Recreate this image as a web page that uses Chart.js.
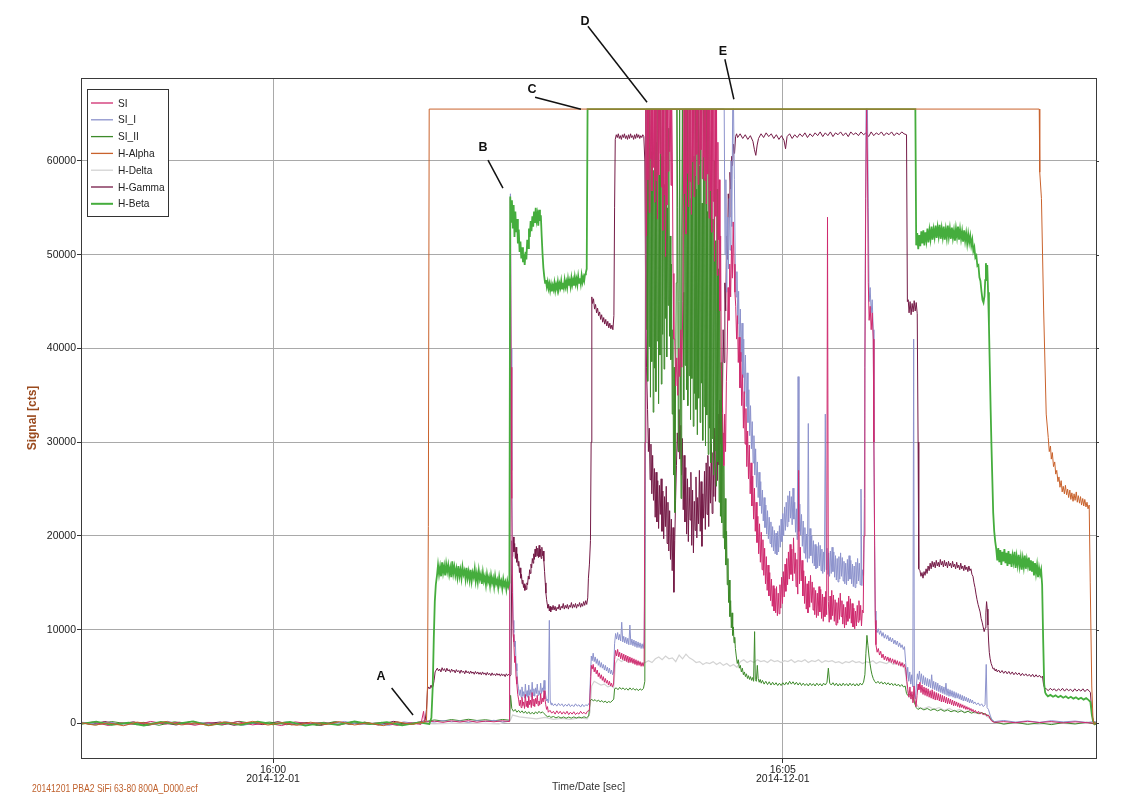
<!DOCTYPE html>
<html>
<head>
<meta charset="utf-8">
<script src="https://cdn.jsdelivr.net/npm/chart.js@4.4.1/dist/chart.umd.min.js"></script>
<style>
  html, body { margin: 0; padding: 0; background: #ffffff; }
  #wrap { position: relative; width: 1132px; height: 796px; }
</style>
</head>
<body>
<div id="wrap"><canvas id="chart" width="1132" height="796"></canvas></div>
<script>
// Time axis: seconds relative to 2014-12-01 16:00:00. Values: detector counts.
const xTickSeconds = [0, 300];
const xTickLabels = [['16:00', '2014-12-01'], ['16:05', '2014-12-01']];
const yTickValues = [0, 10000, 20000, 30000, 40000, 50000, 60000];
const seriesNames = ['SI', 'SI_I', 'SI_II', 'H-Alpha', 'H-Delta', 'H-Gamma', 'H-Beta'];
const fileLabel = '20141201 PBA2 SiFi 63-80 800A_D000.ecf';

// Event markers A-E: label anchor and pointer line, in [seconds, counts]
const markerLabels = ['A', 'B', 'C', 'D', 'E'];
const markerText = [[63.5, 5014], [123.6, 61434], [152.4, 67649], [183.6, 74901], [264.7, 71707]];
const markerFrom = [[69.8, 3787], [126.5, 60101], [154.2, 66795], [185.3, 74367], [265.9, 70853]];
const markerTo = [[82.4, 907], [135.3, 57114], [181.2, 65515], [220.1, 66261], [271.2, 66586]];

const siData = [
[-114,-90],[-106,160],[-97,-210],[-89,70],[-80,-130],[-72,220],[-63,-60],[-55,140],[-46,-190],[-38,90],[-29,-110],[-21,200],[-12,-150],[-4,50],[5,-220],[13,170],[22,-40],[30,130],[39,-180],[47,210],[56,-70],[64,120],[73,-200],[81,80],[87,-100],[88.6,1300],[89.2,150],
[95,250],[100,120],[105,280],[110,160],[115,300],[120,140],[125,260],[130,180],[135,290],[139.2,200],
[139.7,56000],[140.1,38000],[140.5,24000],[140.9,14000],[141.3,9500],[141.7,8700],[142.2,6500],[142.6,7200],[143.0,5000],[143.5,4200],[144.0,3100],[144.5,2600],[145.0,1900],[145.5,2500],[146.0,1700],[146.5,2800],[147.0,1900],[147.5,2300],[148.0,1600],[148.5,3100],[149.0,1800],[149.5,2400],[150.0,1700],[150.5,2900],[151.0,2000],[151.5,2500],[152.0,1700],[152.5,3300],[153.0,1900],[153.5,2600],[154.0,1800],[154.5,2700],[155.0,2100],[155.5,3000],[156.0,1900],[156.5,2400],[157.0,2000],[157.5,3200],[158.0,2100],[158.5,2700],[159.0,2300],[159.5,3500],[160.0,2600],[160.5,2000],[161.0,1500],[161.5,1800],[162.0,1200],[163,1400],[164,1100],[165,1300],[166,1000],[167,1350],[168,1050],[169,1300],[170,1000],[171,1250],[172,1000],[173,1300],[174,950],[175,1200],[176,1000],[177,1250],[178,950],[179,1150],[180,1000],[181,1300],[182,1050],[183,1200],[184,1000],[185,1300],[186.2,1400],[186.8,4000],[187.3,6200],[187.8,5800],[188.4,6300],[189.0,5500],[189.6,6000],[190.2,5300],[190.8,5700],[191.4,5000],[192.0,5400],[192.6,4800],[193.2,5200],[193.8,4600],[194.4,5000],[195.0,4400],[195.6,4800],[196.2,4300],[196.8,4600],[197.4,4100],[198.0,4500],[198.6,4000],[199.2,4300],[199.8,3900],[200.4,4200],[201.0,6800],[201.6,7800],[202.2,7200],[202.8,7900],[203.4,7100],[204.0,7600],[204.6,6900],[205.2,7500],[205.8,6800],[206.4,7400],[207.0,6700],[207.6,7300],[208.2,6600],[208.8,7200],[209.4,6500],[210.0,7100],[210.6,6500],[211.2,7000],[211.8,6400],[212.4,6900],[213.0,6300],[213.6,6800],[214.2,6200],[214.8,6700],[215.4,6200],[216.0,6600],[216.6,6100],[217.2,6500],[217.8,6100],[218.4,6600],
[218.9,30000],[219.4,65535],[219.8,52000],[220.2,65535],[220.6,58000],[221.0,65535],[221.4,54500],[221.8,65535],[222.2,60200],[222.6,65535],[223.0,56800],[223.4,65535],[223.8,59300],[224.2,65535],[224.6,55600],[225.0,65535],[225.4,57900],[225.8,65535],[226.2,53800],[226.6,65535],[227.0,58500],[227.4,65535],[227.8,60800],[228.2,65535],[228.6,57200],[229.0,65535],[229.4,52600],[229.8,65535],[230.2,56400],[230.6,65535],[231.0,49800],[231.4,65535],[231.8,55300],[232.2,65535],[232.6,58900],[233.0,65535],[233.4,61000],[233.8,65535],[234.2,57400],[234.6,65535],[235.0,59800],[235.4,48000],[235.9,41000],[236.4,41000],[237.0,36000],[237.6,39000],[238.2,35000],[238.8,40000],[239.4,37000],[240.0,42000],[240.6,38000],[241.2,45000],[241.8,65535],[242.2,56500],[242.6,65535],[243.0,52200],[243.4,65535],[243.8,58700],[244.2,65535],[244.6,55100],[245.0,65535],[245.4,57800],[245.8,65535],[246.2,54300],[246.6,65535],[247.0,59900],[247.4,65535],[247.8,56200],[248.2,65535],[248.6,58400],[249.0,65535],[249.4,60700],[249.8,65535],[250.2,57500],[250.6,65535],[251.0,59600],[251.4,65535],[251.8,61200],[252.2,65535],[252.6,58100],[253.0,65535],[253.4,60400],[253.8,65535],[254.2,57900],[254.6,65535],[255.0,55400],[255.4,65535],[255.8,58600],[256.2,65535],[256.6,53900],[257.0,65535],[257.4,56800],[257.8,65535],[258.2,52400],[258.6,65535],[259.0,55700],[259.4,65535],[259.8,49300],[260.2,65535],[260.6,54100],[261.0,65535],[261.4,47800],[261.8,62000],[262.2,51600],[262.6,58000],[263.0,44000],[263.4,52000],[263.8,38000],
[264.3,36000],[264.8,31000],[265.3,27500],[265.8,33000],[266.3,29000],[266.8,36500],[267.3,40000],[267.8,46500],[268.3,43000],[268.8,49000],[269.3,45500],[269.8,51000],[270.3,47500],[270.8,53500],[271.3,49000],[271.8,46000],[272.3,44500],[272.8,41000],[273.3,43500],[273.8,38500],[274.3,41200],[274.8,35800],[275.3,39600],[275.8,33900],[276.3,37200],[276.8,31500],[277.3,35400],[277.8,29800],[278.3,33600],[278.8,27400],[279.3,31200],[279.8,26100],[280.3,29700],[280.8,24500],[281.3,27800],[281.8,23200],[282.3,26400],[282.8,21800],[283.3,25100],[283.8,20500],[284.3,23600],[284.8,19300],[285.3,22100],[285.8,18100],[286.3,21300],[286.8,17200],[287.3,20400],[287.8,16400],[288.3,19600],[288.8,15800],[289.3,18700],[289.8,14900],[290.3,17800],[290.8,14200],[291.3,16900],[291.8,13600],[292.3,16100],[292.8,13100],[293.3,15400],[293.8,12500],[294.3,14700],[294.8,12000],[295.3,14400],[295.8,11800],[296.3,14600],[296.8,11500],[297.3,13900],[297.8,11700],[298.3,14800],[298.8,12300],[299.3,15600],[299.8,12800],[300.3,16200],[300.8,13500],[301.3,17000],[301.8,14100],[302.3,17600],[302.8,14800],[303.3,18300],[303.8,15400],[304.3,19100],[304.8,15900],[305.3,18600],[305.8,15200],[306.3,19800],[306.8,16000],[307.3,18200],[307.8,14600],[308.3,17500],[308.8,13800],[309.3,27000],[309.8,14900],[310.3,18800],[310.8,15200],[311.3,17400],[311.8,13600],[312.3,16300],[312.8,12800],[313.3,15700],[313.8,12200],[314.3,14900],[314.8,11800],[315.3,15200],[315.8,12400],[316.3,15800],[316.8,12900],[317.3,15100],[317.8,12100],[318.3,14500],[318.8,11600],[319.3,14200],[319.8,11300],[320.3,13900],[320.8,11500],[321.3,14600],[321.8,11900],[322.3,14300],[322.8,11200],[323.3,13800],[323.8,10900],[324.3,13500],[324.8,11400],[325.3,14100],[325.8,11600],[326.3,54000],[326.8,13000],[327.3,10800],[327.8,13600],[328.3,11100],[328.8,14200],[329.3,11500],[329.8,13700],[330.3,10900],[330.8,13200],[331.3,10500],[331.8,12900],[332.3,10700],[332.8,13400],[333.3,11100],[333.8,13900],[334.3,11400],[334.8,13100],[335.3,10600],[335.8,12700],[336.3,10200],[336.8,12400],[337.3,10500],[337.8,13000],[338.3,10900],[338.8,13600],[339.3,11200],[339.8,13300],[340.3,10700],[340.8,12800],[341.3,10300],[341.8,12300],[342.3,10100],[342.8,12000],[343.3,10400],[343.8,12600],[344.3,10800],[344.8,13100],[345.3,11000],[345.8,12600],[346.3,10400],[346.8,12100],[347.3,11800],[347.8,20000],[348.3,38000],[348.8,56000],[349.3,65535],[349.8,60000],[350.3,47000],[350.8,43000],[351.4,44500],[352.0,42000],[352.6,43800],[353.2,41000],[353.6,30000],[354.0,20000],[354.4,11000],[354.8,8400],[355.5,7600],[356.2,8000],[356.9,7300],[357.6,7700],[358.3,7000],[359.0,7400],[359.7,6800],[360.4,7200],[361.1,6700],[361.8,7100],[362.5,6600],[363.2,7000],[363.9,6500],[364.6,6900],[365.3,6400],[366.0,6800],[366.7,6300],[367.4,6700],[368.1,6200],[368.8,6600],[369.5,6100],[370.2,6500],[370.9,6000],[371.6,6300],[372.3,5800],[373.0,4500],[373.6,3600],[374.2,2800],[374.8,3900],[375.4,2600],[376.0,3400],[376.6,2200],[377.2,4000],[377.8,2500],[378.4,1800],[379.0,3000],[379.6,4200],[380.1,3600],[380.7,4400],[381.3,3300],[381.9,4100],[382.5,3100],[383.1,3900],[383.7,3000],[384.3,3800],[384.9,2900],[385.5,3700],[386.1,2800],[386.7,3500],[387.3,2700],[387.9,3600],[388.5,2600],[389.1,3400],[389.7,2500],[390.3,3300],[390.9,2500],[391.5,3200],[392.1,2400],[392.7,3100],[393.3,2300],[393.9,3000],[394.5,2300],[395.1,2900],[395.7,2200],[396.3,2800],[396.9,2100],[397.5,2700],[398.1,2100],[398.7,2600],[399.3,2000],[399.9,2500],[400.5,1900],[401.1,2400],[401.7,1900],[402.3,2300],[402.9,1800],[403.5,2200],[404.1,1700],[404.7,2100],[405.3,1700],[405.9,2000],[406.5,1600],[407.1,1900],[407.7,1500],[408.3,1800],[408.9,1500],[409.5,1700],[410.1,1400],[410.7,1600],[411.3,1300],[411.9,1500],[412.5,1200],[413.3,1400],[414.2,1100],[415.1,1300],[416.0,1000],[417.0,1200],[418.0,900],[419.0,1100],[420.0,800],[421.0,900],[422.0,500],[423.0,250],[424.5,120],[430,200],[437,80],[444,230],[451,100],[458,210],[465,60],[472,180],[479,90],[483,30],[488,60]
];

const siIData = [
[-114,180],[-105,-60],[-96,140],[-88,-190],[-79,60],[-70,-110],[-62,230],[-53,-140],[-44,120],[-36,-70],[-27,190],[-18,-210],[-10,80],[-1,-50],[8,160],[16,-170],[25,100],[34,-80],[42,220],[51,-120],[60,50],[68,-200],[77,170],[85,-30],[89.5,250],
[95,150],[100,320],[105,180],[110,290],[115,130],[120,310],[125,200],[130,340],[135,170],[139.2,280],
[139.7,56500],[140.1,40000],[140.5,27000],[140.9,16000],[141.3,11000],[141.7,9700],[142.2,8200],[142.6,8800],[143.0,6400],[143.5,5600],[144.0,4300],[144.5,3700],[145.0,3000],[145.5,3600],[146.0,2800],[146.5,3900],[147.0,2900],[147.5,3400],[148.0,2700],[148.5,4200],[149.0,2900],[149.5,3500],[150.0,2800],[150.5,4100],[151.0,3000],[151.5,3600],[152.0,2800],[152.5,4400],[153.0,3000],[153.5,3700],[154.0,2900],[154.5,3800],[155.0,3200],[155.5,4200],[156.0,3000],[156.5,3500],[157.0,3100],[157.5,4300],[158.0,3200],[158.5,3800],[159.0,3400],[159.5,4600],[160.0,3600],[160.5,3000],[161.0,2400],[161.5,2600],[162.0,2200],[162.6,11000],[163.1,2500],[163.6,2000],[164,2200],[165,1900],[166,2100],[167,1850],[168,2150],[169,1900],[170,2100],[171,1800],[172,2050],[173,1850],[174,2100],[175,1800],[176,2000],[177,1800],[178,2100],[179,1850],[180,2000],[181,1750],[182,2050],[183,1800],[184,2000],[185,1900],[186.2,2200],[186.8,5000],[187.3,7200],[187.8,6700],[188.4,7500],[189.0,6600],[189.6,7100],[190.2,6400],[190.8,6900],[191.4,6200],[192.0,6700],[192.6,6000],[193.2,6500],[193.8,5900],[194.4,6300],[195.0,5700],[195.6,6200],[196.2,5600],[196.8,6000],[197.4,5400],[198.0,5900],[198.6,5300],[199.2,5700],[199.8,5200],[200.4,5500],[201.0,8500],[201.6,9600],[202.2,9000],[202.8,9700],[203.4,8900],[204.0,9500],[204.6,8800],[205.2,10800],[205.8,8700],[206.4,9300],[207.0,8600],[207.6,9200],[208.2,8500],[208.8,9100],[209.4,8400],[210.0,10500],[210.6,8400],[211.2,9000],[211.8,8300],[212.4,8900],[213.0,8200],[213.6,8800],[214.2,8100],[214.8,8700],[215.4,8100],[216.0,8600],[216.6,8000],[217.2,8500],[217.8,8000],[218.4,8700],
[219.0,20000],[219.5,65535],[265.0,65535],
[265.5,65535],[266.0,50000],[266.5,58000],[267.0,46000],[267.5,54000],[268.0,48500],[268.5,56000],[269.0,50500],[269.5,60000],[270.0,53000],[270.5,65535],[271.0,65535],[271.5,58000],[272.0,49000],[272.5,45500],[273.0,48200],[273.5,42600],[274.0,46100],[274.5,40300],[275.0,44200],[275.5,38600],[276.0,42700],[276.5,36900],[277.0,41000],[277.5,35200],[278.0,39300],[278.5,33800],[279.0,37400],[279.5,32100],[280.0,35600],[280.5,30700],[281.0,33900],[281.5,29300],[282.0,32200],[282.5,27800],[283.0,30700],[283.5,26500],[284.0,29300],[284.5,25200],[285.0,27900],[285.5,24100],[286.0,26800],[286.5,23200],[287.0,25800],[287.5,22400],[288.0,24900],[288.5,21600],[289.0,24100],[289.5,20900],[290.0,23300],[290.5,20200],[291.0,22700],[291.5,19700],[292.0,22000],[292.5,19200],[293.0,21500],[293.5,18800],[294.0,21000],[294.5,18400],[295.0,20600],[295.5,18100],[296.0,20300],[296.5,18000],[297.0,20500],[297.5,18300],[298.0,21100],[298.5,18800],[299.0,21800],[299.5,19400],[300.0,22400],[300.5,20000],[301.0,23100],[301.5,20600],[302.0,23600],[302.5,21000],[303.0,24300],[303.5,21500],[304.0,24800],[304.5,21900],[305.0,24200],[305.5,21200],[306.0,25100],[306.5,21800],[307.0,23600],[307.5,20400],[308.0,22900],[308.5,19600],[309.0,37000],[309.5,20500],[310.0,23400],[310.5,20100],[311.0,22300],[311.5,18900],[312.0,21600],[312.5,18200],[313.0,20900],[313.5,17600],[314.0,20200],[314.5,17200],[315.0,32000],[315.5,17600],[316.0,20800],[316.5,17900],[317.0,20100],[317.5,17100],[318.0,19500],[318.5,16800],[319.0,19100],[319.5,16500],[320.0,18900],[320.5,16600],[321.0,19300],[321.5,16800],[322.0,19000],[322.5,16300],[323.0,18600],[323.5,16000],[324.0,18300],[324.5,16200],[325.0,33000],[325.5,16400],[326.0,18700],[326.5,15900],[327.0,18200],[327.5,15700],[328.0,18400],[328.5,16000],[329.0,18800],[329.5,16200],[330.0,18300],[330.5,15600],[331.0,17900],[331.5,15300],[332.0,17600],[332.5,15100],[333.0,17800],[333.5,15400],[334.0,18200],[334.5,15700],[335.0,17700],[335.5,15200],[336.0,17300],[336.5,14900],[337.0,17100],[337.5,14800],[338.0,17500],[338.5,15200],[339.0,17900],[339.5,15400],[340.0,17400],[340.5,14900],[341.0,17000],[341.5,14600],[342.0,16800],[342.5,14500],[343.0,17200],[343.5,14900],[344.0,17600],[344.5,15200],[345.0,17100],[345.5,14800],[346.0,25000],[346.5,14700],[347.0,16400],[347.5,15800],[348.0,24000],[348.5,48000],[349.0,65535],[349.8,65535],[350.3,55000],[350.8,45000],[351.4,46500],[352.0,43800],[352.6,45200],[353.2,42000],[353.6,30000],[354.0,19000],[354.4,12000],[354.8,10000],[355.5,9700],[356.2,10100],[356.9,9500],[357.6,9900],[358.3,9300],[359.0,9700],[359.7,9100],[360.4,9500],[361.1,9000],[361.8,9400],[362.5,8800],[363.2,9200],[363.9,8700],[364.6,9100],[365.3,8500],[366.0,8900],[366.7,8400],[367.4,8800],[368.1,8200],[368.8,8600],[369.5,8100],[370.2,8400],[370.9,7900],[371.6,8200],[372.3,6500],[372.9,4800],[373.5,6000],[374.1,4500],[374.7,5500],[375.3,4200],[375.9,5200],[376.5,3900],[377.0,41000],[377.4,3200],[378.0,2600],[378.6,4000],[379.2,5300],[379.8,4700],[380.4,5600],[381.0,4400],[381.6,5300],[382.2,4200],[382.8,5100],[383.4,4100],[384.0,4900],[384.6,4000],[385.2,4800],[385.8,3900],[386.4,4700],[387.0,3800],[387.6,5200],[388.2,3700],[388.8,4500],[389.4,3600],[390.0,4400],[390.6,3500],[391.2,4300],[391.8,3400],[392.4,4100],[393.0,3300],[393.6,4000],[394.2,3200],[394.8,3900],[395.4,3100],[396.0,4300],[396.6,3000],[397.2,3700],[397.8,2900],[398.4,3600],[399.0,2900],[399.6,3500],[400.2,2800],[400.8,3400],[401.4,2700],[402.0,3300],[402.6,2700],[403.2,3200],[403.8,2600],[404.4,3100],[405.0,2500],[405.6,3000],[406.2,2400],[406.8,2900],[407.4,2400],[408.0,2800],[408.6,2300],[409.2,2700],[409.8,2200],[410.4,2600],[411.0,2200],[411.6,2500],[412.2,2100],[413,2300],[414,2000],[415,2200],[416,1900],[417,2100],[418,1800],[419,2000],[419.7,6300],[420.2,1700],[421,1500],[422,900],[423,400],[424.5,200],[430,320],[437,150],[444,280],[451,120],[458,300],[465,170],[472,260],[479,110],[483,200],[488,90]
];

const siIIData = [
[-114,70],[-104,-150],[-95,210],[-86,-30],[-76,120],[-67,-190],[-58,180],[-48,-90],[-39,60],[-30,-170],[-20,230],[-11,-20],[-2,150],[8,-130],[17,90],[26,-210],[36,190],[45,-60],[54,140],[64,-160],[73,40],[82,-100],[89.5,200],
[95,380],[100,260],[105,420],[110,300],[115,450],[120,320],[125,400],[130,280],[135,430],[139.2,350],
[139.8,3000],[140.5,1600],[141.5,1300],[142.5,1500],[143.5,1200],[144.5,1400],[145.5,1150],[146.5,1350],[147.5,1100],[148.5,1300],[149.5,1050],[150.5,1250],[151.5,1000],[152.5,1200],[153.5,1000],[154.5,1250],[155.5,1050],[156.5,1300],[157.5,1100],[158.5,1250],[159.5,1050],[160.5,900],[161.5,700],[162.5,800],[163.5,650],[165,750],[166.5,600],[168,720],[169.5,580],[171,700],[172.5,560],[174,690],[175.5,570],[177,700],[178.5,580],[180,690],[181.5,600],[183,710],[184.5,620],[185.8,800],[186.6,2400],[187.5,2600],[188.5,2400],[189.5,2550],[190.5,2350],[191.5,2500],[192.5,2300],[193.5,2450],[194.5,2250],[195.5,2400],[196.5,2200],[197.5,2350],[198.5,2250],[199.5,2400],[200.5,2600],[201.0,3700],[202,3800],[203,3600],[204,3850],[205,3650],[206,3800],[207,3600],[208,3750],[209,3550],[210,3800],[211,3600],[212,3750],[213,3550],[214,3700],[215,3500],[216,3700],[217,3550],[218,3750],[218.8,4500],
[219.3,65535],[219.7,42000],[220.1,65535],[220.5,36500],[220.9,63000],[221.3,40200],[221.7,65535],[222.1,34800],[222.5,61000],[222.9,38600],[223.3,65535],[223.7,33200],[224.1,59000],[224.5,37900],[224.9,65535],[225.3,35400],[225.7,62000],[226.1,40800],[226.5,65535],[226.9,34100],[227.3,58500],[227.7,39300],[228.1,65535],[228.5,36200],[228.9,60500],[229.3,41500],[229.7,65535],[230.1,37800],[230.5,57500],[230.9,43200],[231.3,65535],[231.7,39100],[232.1,55000],[232.5,44600],[232.9,63500],[233.3,41300],[233.7,52000],[234.1,38800],[234.5,49000],[234.9,33000],[235.3,42000],[235.7,26500],[236.1,38000],[236.5,22500],[236.9,36000],[237.3,47000],[237.7,65535],[238.1,55000],[238.5,29000],[238.9,45000],[239.3,65535],[239.7,40000],[240.1,24000],[240.5,52000],[240.9,65535],[241.3,46000],[241.7,34500],[242.1,65535],[242.5,38200],[242.9,60000],[243.3,35600],[243.7,65535],[244.1,33900],[244.5,58000],[244.9,37100],[245.3,65535],[245.7,32400],[246.1,56000],[246.5,36800],[246.9,65535],[247.3,31700],[247.7,60500],[248.1,35200],[248.5,65535],[248.9,33500],[249.3,57000],[249.7,30800],[250.1,65535],[250.5,34700],[250.9,59500],[251.3,32100],[251.7,65535],[252.1,36300],[252.5,55500],[252.9,30200],[253.3,65535],[253.7,33800],[254.1,58200],[254.5,29600],[254.9,65535],[255.3,32900],[255.7,54600],[256.1,28700],[256.5,65535],[256.9,31500],[257.3,56800],[257.7,27800],[258.1,63000],[258.5,30400],[258.9,53800],[259.3,26500],[259.7,60000],[260.1,29100],[260.5,51500],[260.9,25300],[261.3,57000],[261.7,27900],[262.1,48500],[262.5,23600],[262.9,44000],[263.3,22100],[263.7,38500],[264.1,21400],[264.5,33000],[264.9,19800],[265.3,27500],[265.7,18600],[266.1,24000],[266.5,16900],[266.9,20500],[267.3,14800],[267.7,17600],[268.1,12900],[268.5,15300],[268.9,11400],[269.3,13100],[269.7,10200],[270.1,11800],[270.5,9400],[270.9,10300],[271.3,8600],[271.7,9200],[272.1,8000],[272.6,7200],[273.2,6400],[273.8,6800],[274.4,5900],[275.0,6200],[275.6,5500],[276.2,5900],[276.8,5200],[277.4,5500],[278.0,5000],[278.6,5300],[279.2,4800],[279.8,5100],[280.4,4700],[281.0,5000],[281.6,4600],[282.2,4900],[282.8,4500],[283.4,9800],[283.8,4700],[284.4,4500],[285.0,6200],[285.5,4800],[286.1,4400],[286.7,4700],[287.3,4300],[288.0,4600],[289,4200],[290,4500],[291,4150],[292,4450],[293,4100],[294,4400],[295,4100],[296,4350],[297,4050],[298,4300],[299,4050],[300,4350],[301,4100],[302,4400],[303,4150],[304,4500],[305,4200],[306,4450],[307,4150],[308,4400],[309,4100],[310,4350],[311,4050],[312,4300],[313,4050],[314,4250],[315,4000],[316,4300],[317,4050],[318,4250],[319,4000],[320,4300],[321,4050],[322,4250],[323,4000],[324,4300],[325,4100],[326,4400],[326.8,5900],[327.6,4300],[328.5,4100],[329.5,4350],[330.5,4050],[331.5,4300],[332.5,4000],[333.5,4250],[334.5,4000],[335.5,4300],[336.5,4050],[337.5,4250],[338.5,4000],[339.5,4300],[340.5,4050],[341.5,4250],[342.5,4000],[343.5,4250],[344.5,4000],[345.5,4300],[346.5,4100],[347.5,4400],[348.3,5200],[348.9,7500],[349.5,9400],[350.1,8300],[350.7,7200],[351.3,6400],[351.9,5700],[352.5,5200],[353.2,4800],[354,4500],[355,4300],[356,4500],[357,4250],[358,4450],[359,4200],[360,4400],[361,4150],[362,4350],[363,4100],[364,4300],[365,4050],[366,4250],[367,4000],[368,4200],[369,3950],[370,4150],[371,3900],[372,4000],[372.8,3200],[373.5,3000],[374.5,3100],[375.5,2900],[376.5,3050],[377.5,2200],[378.5,1700],[379.5,1500],[381,1650],[383,1450],[385,1600],[387,1400],[389,1550],[391,1350],[393,1500],[395,1300],[397,1450],[399,1250],[401,1400],[403,1200],[405,1350],[407,1150],[409,1300],[411,1100],[413,1250],[415,1050],[417,1150],[419,1000],[421,850],[423,400],[424.5,150],[430,-60],[437,110],[444,-90],[451,70],[458,-120],[465,90],[472,-50],[479,130],[483,-40],[488,60]
];

const hAlphaData = [
[-114,120],[-105,-180],[-97,60],[-88,-240],[-80,150],[-71,-90],[-63,210],[-54,-150],[-46,40],[-37,-220],[-29,170],[-20,-60],[-12,230],[-3,-170],[5,90],[14,-200],[22,140],[31,-110],[39,200],[48,-160],[56,70],[65,-230],[73,180],[82,-90],[89,150],
[90.3,300],[90.9,4000],[91.4,21000],[91.9,65535],
[450.9,65535],[451.2,58800],[452.2,56000],[453.5,44000],[455.0,33000],[456.2,30500],[456.8,29000],[457.5,29600],[458.0,28200],[458.6,28900],[459.3,27400],[460.0,27900],[460.6,26600],[461.2,27000],[461.9,25800],[462.5,26300],[463.1,25200],[463.8,25900],[464.4,24700],[465.0,25300],[465.7,24500],[466.3,25400],[467.0,24400],[467.6,25000],[468.2,24100],[468.9,24900],[469.5,23900],[470.1,24600],[470.8,23700],[471.4,24500],[472.0,23800],[472.7,24700],[473.3,23600],[473.9,24300],[474.6,23500],[475.2,24200],[475.8,23300],[476.5,24000],[477.1,23200],[477.7,23900],[478.4,23100],[479.0,23600],[479.6,22900],[480.3,23300],[480.9,15000],[481.8,4000],[482.5,600],[483.2,-100],[484.5,150],[486,-120],[488,80]
];

const hDeltaData = [
[-114,50],[-95,-120],[-76,90],[-57,-80],[-38,110],[-19,-60],[0,70],[19,-100],[38,60],[57,-90],[76,80],[95,-40],[114,60],[133,-30],[139.5,300],[141,900],[145,700],[150,600],[155,500],[160,650],[165,450],[170,550],[175,450],[180,600],[185,500],[186.5,1200],[187.5,4000],[189,4500],[191,4300],[193,4100],[195,4200],[197,3900],[199,4000],[200.5,3800],[201.5,6400],[203,6900],[205,6600],[207,6800],[209,6500],[211,6700],[213,6400],[215,6600],[217,6300],[219,6500],
[221,6700],[223,6500],[225,6900],[227,7100],[229,6800],[231,7200],[233,6900],[235,7000],[237,6600],[239,7300],[241,6900],[243,7400],[245,7000],[247,6800],[249,6500],[251,6600],[253,6300],[255,6500],[257,6400],[259,6600],[261,6300],[263,6500],[265,6200],[267,6400],[269,6100],[271,6300],[273,6000],[275,6600],[277,6800],[279,6500],[281,6700],[283,6500],[285,6800],[287,6600],[289,6700],[291,6500],[293,6800],[295,6600],[297,6700],[299,6500],[301,6700],[303,6600],[305,6800],[307,6500],[309,6700],[311,6600],[313,6800],[315,6500],[317,6700],[319,6600],[321,6800],[323,6500],[325,6700],[327,6600],[329,6700],[331,6500],[333,6600],[335,6400],[337,6600],[339,6500],[341,6700],[343,6500],[345,6600],[347,6400],[349,6600],[351,6500],[353,6700],[355,6400],[357,6600],[359,6500],[361,6400],[363,6600],[365,6300],[367,6500],[369,6200],[371,6400],[372.5,5000],[373.5,3200],[375,2800],[377,2500],[378.5,2100],[380,1700],[383,1600],[386,1800],[389,1500],[392,1700],[395,1400],[398,1600],[401,1300],[404,1500],[407,1200],[410,1400],[413,1100],[416,1200],[419,900],[422,500],[424,150],[430,-50],[440,80],[450,-60],[460,70],[470,-40],[480,60],[488,-30]
];

const hGammaData = [
[-114,140],[-107,-110],[-99,210],[-91,-70],[-82,180],[-74,-200],[-65,90],[-57,-160],[-48,220],[-40,-40],[-31,160],[-23,-190],[-14,70],[-6,-120],[3,200],[11,-150],[20,110],[28,-210],[37,170],[45,-80],[54,130],[62,-170],[71,230],[79,-60],[86,150],[89.5,300],
[90.3,1500],[90.9,3600],[91.6,3900],[92.3,3700],[93.0,4100],[93.6,3800],[94.2,4000],[94.8,4600],[95.4,5500],[96.0,5700],[96.7,5900],[97.4,5600],[98.1,5800],[98.8,5500],[99.5,5950],[100.2,5650],[100.9,5850],[101.6,5500],[102.3,5900],[103.0,5600],[103.7,5750],[104.4,5450],[105.1,5800],[105.8,5550],[106.5,5700],[107.2,5400],[107.9,5750],[108.6,5500],[109.3,5650],[110.0,5350],[110.7,5700],[111.4,5450],[112.1,5600],[112.8,5300],[113.5,5650],[114.2,5400],[114.9,5550],[115.6,5300],[116.3,5600],[117.0,5350],[117.7,5500],[118.4,5250],[119.1,5550],[119.8,5300],[120.5,5500],[121.2,5250],[121.9,5450],[122.6,5200],[123.3,5500],[124.0,5250],[124.7,5400],[125.4,5150],[126.1,5450],[126.8,5200],[127.5,5350],[128.2,5100],[128.9,5400],[129.6,5150],[130.3,5300],[131.0,5100],[131.7,5350],[132.4,5150],[133.1,5300],[133.8,5050],[134.5,5300],[135.2,5100],[135.9,5250],[136.6,5000],[137.3,5300],[138.0,5100],[138.7,5250],[139.4,5050],[140.0,5200],
[140.6,19500],[141.0,17800],[141.4,19900],[141.8,18300],[142.2,19200],[142.6,17600],[143.0,18800],[143.4,17200],[143.8,18100],[144.2,16800],[144.6,17300],[145.0,16100],[145.4,16600],[145.8,15500],[146.2,15900],[146.6,14900],[147.0,15300],[147.4,14500],[147.8,14900],[148.2,14200],[148.6,14700],[149.0,14300],[149.4,15000],[149.8,14800],[150.2,15700],[150.6,15400],[151.0,16400],[151.4,16000],[151.8,17000],[152.2,16600],[152.6,17600],[153.0,17100],[153.4,18100],[153.8,17500],[154.2,18600],[154.6,17800],[155.0,18900],[155.4,17900],[155.8,18700],[156.2,17700],[156.6,19000],[157.0,17800],[157.4,18600],[157.8,17600],[158.2,18800],[158.6,17900],[159.0,18400],[159.4,17300],[159.8,16200],[160.2,15000],[160.6,13900],[161.0,13200],[161.4,12700],[161.8,12300],[162.2,12700],[162.6,12000],[163.0,12500],[163.4,11900],[163.8,12400],[164.2,12100],[164.8,12600],[165.4,12100],[166.0,12500],[166.6,12000],[167.2,12400],[167.8,12200],[168.4,12700],[169.0,12100],[169.6,12500],[170.2,12300],[170.8,12800],[171.4,12200],[172.0,12600],[172.6,12300],[173.2,12700],[173.8,12200],[174.4,12600],[175.0,12400],[175.6,12900],[176.2,12300],[176.8,12700],[177.4,12400],[178.0,12800],[178.6,12300],[179.2,12700],[179.8,12500],[180.4,12900],[181.0,12400],[181.6,12800],[182.2,12500],[182.8,13000],[183.4,12600],[184.0,13100],[184.6,12700],[185.2,13400],[185.6,15500],[186.2,17000],[186.8,19500],[187.2,30000],[187.6,45500],[188.0,44800],[188.6,45300],[189.2,44200],[189.8,44700],[190.4,43800],[191.0,44300],[191.6,43500],[192.2,43900],[192.8,43100],[193.4,43600],[194.0,42800],[194.6,43300],[195.2,42600],[195.8,43100],[196.4,42400],[197.0,42900],[197.6,42200],[198.2,42700],[198.8,42100],[199.4,42500],[200.0,42000],[200.6,43500],[201.0,55000],[201.4,62300],[202.0,62800],[202.6,62500],[203.2,62900],[203.8,62400],[204.4,62700],[205.0,62300],[205.6,62800],[206.2,62500],[206.8,62900],[207.4,62400],[208.0,62700],[208.6,62300],[209.2,62800],[209.8,62400],[210.4,62900],[211.0,62500],[211.6,62700],[212.2,62300],[212.8,62800],[213.4,62400],[214.0,62900],[214.6,62500],[215.2,62800],[215.8,62400],[216.4,62700],[217.0,62500],[217.6,62800],[218.2,62600],
[218.8,60000],[219.3,45000],[219.8,38000],[220.4,33500],[220.9,29000],[221.4,31500],[221.9,26000],[222.4,29800],[222.9,24500],[223.4,28600],[223.9,23800],[224.4,27200],[224.9,22000],[225.4,26800],[225.9,21500],[226.4,25900],[226.9,20800],[227.4,25400],[227.9,22300],[228.4,26100],[228.9,20500],[229.4,24800],[229.9,19700],[230.4,24200],[230.9,21000],[231.4,25300],[231.9,19200],[232.4,23600],[232.9,18400],[233.4,22700],[233.9,17500],[234.4,21800],[234.9,16300],[235.4,20900],[235.9,14000],[236.4,19500],[236.9,23800],[237.4,27500],[237.9,31000],[238.4,29000],[238.9,33500],[239.4,28200],[239.9,31800],[240.4,26500],[240.9,30400],[241.4,22800],[241.9,28600],[242.4,21500],[242.9,27300],[243.4,20200],[243.9,26100],[244.4,19400],[244.9,25200],[245.4,21700],[245.9,26800],[246.4,19000],[246.9,24900],[247.4,18200],[247.9,23700],[248.4,20600],[248.9,26300],[249.4,19800],[249.9,24100],[250.4,21300],[250.9,27000],[251.4,20500],[251.9,25800],[252.4,18900],[252.9,24500],[253.4,21900],[253.9,26900],[254.4,20700],[254.9,27800],[255.4,22300],[255.9,28600],[256.4,21000],[256.9,27400],[257.4,23500],[257.9,29800],[258.4,22400],[258.9,28900],[259.4,24200],[259.9,31500],[260.4,23700],[260.9,30800],[261.4,25900],[261.9,33000],[262.4,27600],[262.9,34500],[263.4,29800],[263.9,37500],[264.4,33200],[264.9,42000],[265.4,38500],[265.9,47000],[266.4,44000],[266.9,52000],[267.4,49500],[267.9,56500],[268.4,54000],[268.9,58800],[269.4,57000],[269.9,60500],[270.4,59500],[271.0,61800],[271.6,60800],[272.2,62600],[272.8,62900],
[273.4,62500],[274.9,62900],[276.4,62400],[277.9,62800],[279.4,62300],[280.9,62700],[282.4,62100],[283.3,61200],[284.1,60600],[284.9,61700],[285.7,62400],[287.2,62900],[288.7,62500],[290.2,63000],[291.7,62600],[293.2,62900],[294.7,62400],[296.2,62800],[297.7,62300],[299.2,62700],[300.7,62200],[301.6,61300],[302.5,62600],[304.0,62900],[305.5,62400],[307.0,62800],[308.5,62500],[310.0,62900],[311.5,62600],[313.0,63000],[314.5,62500],[316.0,62900],[317.5,62600],[319.0,63000],[320.5,62700],[322.0,63100],[323.5,62600],[325.0,63000],[326.5,62700],[328.0,63100],[329.5,62600],[331.0,63000],[332.5,62800],[334.0,63100],[335.5,62700],[337.0,63000],[338.5,62600],[340.0,63100],[341.5,62800],[343.0,63000],[344.5,62700],[346.0,63100],[347.5,62800],[349.0,63000],[350.5,62600],[352.0,63100],[353.5,62700],[355.0,63000],[356.5,62800],[358.0,63100],[359.5,62700],[361.0,63000],[362.5,62800],[364.0,63100],[365.5,62700],[367.0,63000],[368.5,62800],[370.0,63100],[371.3,62900],[372.8,62800],
[373.3,45000],[373.8,45200],[374.3,43800],[374.9,45000],[375.5,43600],[376.1,44800],[376.7,43900],[377.3,45100],[377.9,44000],[378.5,44900],[379.1,43700],[379.6,30000],[380.0,16500],[380.7,16300],[381.3,15700],[381.9,16100],[382.5,15500],[383.1,16200],[383.7,15800],[384.3,16500],[384.9,16000],[385.5,16800],[386.1,16300],[386.7,17100],[387.3,16500],[387.9,17300],[388.5,16700],[389.1,17200],[389.7,16600],[390.3,17400],[390.9,16800],[391.5,17200],[392.1,16700],[392.7,17500],[393.3,16900],[393.9,17300],[394.5,16700],[395.1,17400],[395.7,16800],[396.3,17200],[396.9,16600],[397.5,17300],[398.1,16800],[398.7,17100],[399.3,16600],[399.9,17300],[400.5,16700],[401.1,17000],[401.7,16500],[402.3,17200],[402.9,16600],[403.5,16900],[404.1,16400],[404.7,17100],[405.3,16500],[405.9,16800],[406.5,16300],[407.1,16900],[407.7,16400],[408.3,16700],[408.9,16200],[409.5,16800],[410.1,16300],[410.7,16500],[411.3,15900],[411.9,15700],[412.5,15000],[413.1,14500],[413.7,13800],[414.3,13200],[414.9,12700],[415.5,12300],[416.1,11900],[416.7,11200],[417.3,10800],[417.9,10300],[418.5,9800],[419.1,10200],[419.5,11800],[419.9,13000],[420.3,12200],[420.7,10500],[421.1,8800],[421.5,7600],[422.0,6900],[422.6,6400],[423.2,6100],[423.8,5800],[424.4,5900],[425.0,5600],[425.6,5800],[426.2,5500],[427.0,5700],[428.0,5400],[429.0,5650],[430.0,5350],[431.0,5600],[432.0,5300],[433.0,5550],[434.0,5250],[435.0,5500],[436.0,5200],[437.0,5450],[438.0,5200],[439.0,5400],[440.0,5100],[441.0,5350],[442.0,5100],[443.0,5300],[444.0,5050],[445.0,5250],[446.0,5000],[447.0,5250],[448.0,4950],[449.0,5200],[450.0,4950],[451.0,5150],[452.0,4900],[452.8,5050],[453.4,4200],[454.0,3800],[455.0,3700],[456.2,3500],[457.4,3750],[458.6,3550],[459.8,3700],[461,3450],[462.2,3700],[463.4,3500],[464.6,3750],[465.8,3450],[467,3700],[468.2,3500],[469.4,3650],[470.6,3400],[471.8,3700],[473,3450],[474.2,3650],[475.4,3450],[476.6,3700],[477.8,3400],[479,3650],[480.2,3500],[481.0,3300],[481.8,1200],[482.6,200],[484,-100],[486,150],[488,-50]
];

const hBetaData = [
[-114,-60],[-104,190],[-95,-150],[-85,80],[-76,-210],[-66,160],[-57,-40],[-47,230],[-38,-190],[-28,100],[-19,-130],[-9,200],[0,-80],[10,170],[19,-220],[29,60],[38,-140],[48,210],[57,-60],[67,150],[76,-200],[86,110],[92,-50],
[93.2,600],[94.0,4000],[94.6,9000],[95.2,13000],[95.8,14800],[96.5,15800],[97.1,16900],[97.7,15900],[98.3,16700],[98.9,15700],[99.5,17200],[100.1,16100],[100.7,16800],[101.3,15800],[101.9,17000],[102.5,16200],[103.1,16900],[103.7,15900],[104.3,16600],[104.9,15600],[105.5,17300],[106.1,16000],[106.7,16700],[107.3,15800],[107.9,16500],[108.5,15600],[109.1,16800],[109.7,15700],[110.3,16400],[110.9,15500],[111.5,16700],[112.1,15900],[112.7,16300],[113.3,15400],[113.9,16600],[114.5,15500],[115.1,16200],[115.7,15300],[116.3,16400],[116.9,15200],[117.5,16100],[118.1,15600],[118.7,16500],[119.3,15200],[119.9,16000],[120.5,15100],[121.1,16300],[121.7,15400],[122.3,15900],[122.9,14900],[123.5,16100],[124.1,15200],[124.7,15700],[125.3,14800],[125.9,15900],[126.5,15100],[127.1,15600],[127.7,14700],[128.3,15800],[128.9,15000],[129.5,15500],[130.1,14600],[130.7,15700],[131.3,14900],[131.9,15300],[132.5,14500],[133.1,15600],[133.7,14800],[134.3,15200],[134.9,14400],[135.5,15400],[136.1,14700],[136.7,15100],[137.3,14300],[137.9,15200],[138.5,14600],[139.1,15000],
[139.6,56200],[140.1,53500],[140.6,55800],[141.1,52800],[141.6,55300],[142.1,51900],[142.6,54600],[143.1,52400],[143.6,53800],[144.1,51200],[144.6,52700],[145.1,50300],[145.6,51400],[146.1,49600],[146.6,50800],[147.1,49200],[147.6,50100],[148.1,48900],[148.6,50300],[149.1,49500],[149.6,51600],[150.1,50700],[150.6,52800],[151.1,51900],[151.6,53600],[152.1,52500],[152.6,54100],[153.1,53000],[153.6,54600],[154.1,53400],[154.6,55000],[155.1,53700],[155.6,54300],[156.1,53100],[156.6,54800],[157.1,53600],[157.6,54200],[158.1,52000],[158.6,50100],[159.1,48600],[159.6,47700],[160.1,47000],[160.6,47300],[161.1,46600],[161.6,47100],[162.1,46400],[162.6,46900],[163.1,46200],[163.6,46800],[164.1,46100],[164.6,46700],[165.1,46300],[165.6,47000],[166.1,46200],[166.6,46800],[167.1,46400],[167.6,47100],[168.1,46300],[168.6,46900],[169.1,46500],[169.6,47200],[170.1,46400],[170.6,47000],[171.1,46500],[171.6,47300],[172.1,46600],[172.6,47100],[173.1,46500],[173.6,47400],[174.1,46700],[174.6,47200],[175.1,46600],[175.6,47500],[176.1,46800],[176.6,47300],[177.1,46700],[177.6,47600],[178.1,46900],[178.6,47400],[179.1,46800],[179.6,47700],[180.1,47000],[180.6,47500],[181.1,46900],[181.6,47800],[182.1,47100],[182.6,47600],[183.1,47200],[183.6,47900],[184.1,48100],[184.6,48500],[185.1,65535],
[378.0,65535],[378.5,51000],[379.1,52300],[379.7,50600],[380.3,52100],[380.9,50900],[381.5,52500],[382.1,51200],[382.7,52600],[383.3,51000],[383.9,52400],[384.5,51500],[385.1,52800],[385.7,51300],[386.3,52600],[386.9,51700],[387.5,53000],[388.1,51600],[388.7,52700],[389.3,51900],[389.9,53100],[390.5,51800],[391.1,52900],[391.7,52000],[392.3,53200],[392.9,51700],[393.5,52800],[394.1,51900],[394.7,53000],[395.3,51600],[395.9,52700],[396.5,51800],[397.1,53100],[397.7,51900],[398.3,52800],[398.9,51700],[399.5,52900],[400.1,51800],[400.7,52600],[401.3,51500],[401.9,52800],[402.5,51900],[403.1,53000],[403.7,51600],[404.3,52700],[404.9,51700],[405.5,52500],[406.1,51400],[406.7,52600],[407.3,51500],[407.9,52300],[408.5,51200],[409.1,52200],[409.7,51300],[410.3,52000],[410.9,51000],[411.5,51600],[412.1,50400],[412.7,50800],[413.3,49700],[413.9,49900],[414.5,48800],[415.1,48900],[415.7,47600],[416.3,47200],[416.9,46100],[417.5,45200],[418.1,44900],[418.7,45600],[419.1,47300],[419.5,49100],[419.9,48200],[420.3,48900],[420.8,46000],[421.3,42500],[421.8,38000],[422.3,33500],[422.8,29500],[423.3,26000],[423.8,22500],[424.4,20500],[425.0,19400],[425.6,18600],[426.2,17400],[426.8,18700],[427.4,17200],[428.0,18500],[428.6,16900],[429.2,18300],[429.8,17300],[430.4,18600],[431.0,17100],[431.6,18200],[432.2,16800],[432.8,18400],[433.4,17000],[434.0,18100],[434.6,16700],[435.2,17900],[435.8,17200],[436.4,18300],[437.0,16600],[437.6,17800],[438.2,16900],[438.8,18000],[439.4,16800],[440.0,17700],[440.6,16400],[441.2,17600],[441.8,16700],[442.4,17900],[443.0,16500],[443.6,17500],[444.2,16800],[444.8,17700],[445.4,16300],[446.0,17400],[446.6,16200],[447.2,17300],[447.8,15800],[448.4,17100],[449.0,16000],[449.6,16900],[450.2,15600],[450.8,16600],[451.4,15900],[452.0,16400],[452.6,14800],[453.2,9000],[453.8,4200],[454.4,3300],[455.0,3100],[456.0,2900],[457.5,3050],[459,2850],[460.5,3000],[462,2800],[463.5,2950],[465,2750],[466.5,2900],[468,2700],[469.5,2850],[471,2650],[472.5,2800],[474,2600],[475.5,2750],[477,2550],[478.5,2700],[480,2500],[481,2300],[481.8,1000],[482.5,300],[483.5,-80],[485,120],[486.5,-60],[488,90]
];

const seriesData = [siData, siIData, siIIData, hAlphaData, hDeltaData, hGammaData, hBetaData];
const seriesColors = ['#cf2a6e', '#8c92cc', '#3d8a2a', '#c9622c', '#d3d3d3', '#741a46', '#45ad3d'];
const seriesWidths = [1, 1, 1, 1, 1.2, 1, 1.8];
const drawOrder = [3, 4, 5, 1, 7, 6, 2];   // lower value is painted on top

const FONT = "'Liberation Sans', Arial, Helvetica, sans-serif";
Chart.defaults.font.family = FONT;

const datasets = seriesNames.map((name, i) => ({
  label: name,
  data: seriesData[i].map(p => ({ x: p[0], y: p[1] })),
  borderColor: seriesColors[i],
  backgroundColor: seriesColors[i],
  borderWidth: seriesWidths[i],
  pointRadius: 0,
  tension: 0,
  fill: false,
  order: drawOrder[i]
}));

const overlayPlugin = {
  id: 'overlay',
  afterDatasetsDraw(chart) {
    const ctx = chart.ctx;
    const a = chart.chartArea;
    // plot frame with small outer ticks on the right edge
    ctx.save();
    ctx.strokeStyle = '#3a3a3a';
    ctx.lineWidth = 1;
    ctx.strokeRect(Math.round(a.left) + 0.5, Math.round(a.top) + 0.5,
                   Math.round(a.right - a.left), Math.round(a.bottom - a.top));
    const ys = chart.scales.y;
    yTickValues.forEach(v => {
      const py = Math.round(ys.getPixelForValue(v)) + 0.5;
      ctx.beginPath();
      ctx.moveTo(a.right, py);
      ctx.lineTo(a.right + 3, py);
      ctx.stroke();
    });
    ctx.restore();

    // legend box in the upper-left corner of the plot
    ctx.save();
    const bx = 87.5, by = 89.5, bw = 81, bh = 127, step = 16.8;
    ctx.fillStyle = '#ffffff';
    ctx.fillRect(bx, by, bw, bh);
    ctx.strokeStyle = '#333333';
    ctx.lineWidth = 1;
    ctx.strokeRect(bx, by, bw, bh);
    ctx.font = '11px ' + FONT;
    ctx.textBaseline = 'middle';
    ctx.textAlign = 'left';
    seriesNames.forEach((name, i) => {
      const yy = 103 + i * step;
      ctx.strokeStyle = seriesColors[i];
      ctx.lineWidth = seriesWidths[i] > 1.5 ? 2 : 1.3;
      ctx.beginPath();
      ctx.moveTo(91, yy);
      ctx.lineTo(113, yy);
      ctx.stroke();
      ctx.fillStyle = '#222222';
      ctx.save();
      ctx.translate(118, yy + 0.5);
      ctx.scale(0.92, 1);
      ctx.fillText(name, 0, 0);
      ctx.restore();
    });
    ctx.restore();
  },
  afterDraw(chart) {
    const ctx = chart.ctx;
    const xs = chart.scales.x, ys = chart.scales.y;
    // event markers A-E
    ctx.save();
    ctx.strokeStyle = '#111111';
    ctx.fillStyle = '#111111';
    ctx.lineWidth = 1.5;
    ctx.font = 'bold 12.5px ' + FONT;
    ctx.textAlign = 'center';
    ctx.textBaseline = 'middle';
    markerLabels.forEach((lab, i) => {
      ctx.beginPath();
      ctx.moveTo(xs.getPixelForValue(markerFrom[i][0]), ys.getPixelForValue(markerFrom[i][1]));
      ctx.lineTo(xs.getPixelForValue(markerTo[i][0]), ys.getPixelForValue(markerTo[i][1]));
      ctx.stroke();
      ctx.fillText(lab, xs.getPixelForValue(markerText[i][0]), ys.getPixelForValue(markerText[i][1]));
    });
    ctx.restore();

    // data file name, lower left
    ctx.save();
    ctx.fillStyle = '#bf5f2a';
    ctx.font = '11px ' + FONT;
    ctx.textBaseline = 'middle';
    ctx.translate(32, 789);
    ctx.scale(0.78, 1);
    ctx.fillText(fileLabel, 0, 0);
    ctx.restore();
  }
};

new Chart(document.getElementById('chart'), {
  type: 'line',
  data: { datasets },
  options: {
    responsive: false,
    animation: false,
    devicePixelRatio: 1,
    events: [],
    normalized: true,
    layout: { padding: { left: 0, right: 36, top: 78, bottom: 0 } },
    plugins: { legend: { display: false }, tooltip: { enabled: false } },
    scales: {
      x: {
        type: 'linear',
        min: -113,
        max: 484.3,
        afterBuildTicks: (s) => { s.ticks = xTickSeconds.map(v => ({ value: v })); },
        afterFit: (s) => { s.height = 38; },
        ticks: {
          autoSkip: false,
          maxRotation: 0,
          padding: 3,
          color: '#222222',
          font: { size: 10.5, lineHeight: 0.82 },
          callback: (v) => { const i = xTickSeconds.indexOf(v); return i >= 0 ? xTickLabels[i] : ''; }
        },
        grid: { color: '#a9a9a9', lineWidth: 1, tickLength: 5, tickColor: '#333333' },
        border: { color: '#333333', width: 1 },
        title: { display: true, text: 'Time/Date [sec]', color: '#333333', font: { size: 10.5 }, padding: { top: 0, bottom: 3 } }
      },
      y: {
        min: -3680,
        max: 68850,
        afterBuildTicks: (s) => { s.ticks = yTickValues.map(v => ({ value: v })); },
        afterFit: (s) => { s.width = 81; },
        ticks: {
          padding: 1,
          color: '#222222',
          font: { size: 10.5 },
          callback: (v) => String(v)
        },
        grid: { color: '#a9a9a9', lineWidth: 1, tickLength: 4, tickColor: '#333333' },
        border: { color: '#333333', width: 1 },
        title: { display: true, text: 'Signal [cts]', color: '#9a4a1e', font: { size: 12, weight: 'bold' }, padding: { top: 25, bottom: 0 } }
      }
    }
  },
  plugins: [overlayPlugin]
});
</script>
</body>
</html>
